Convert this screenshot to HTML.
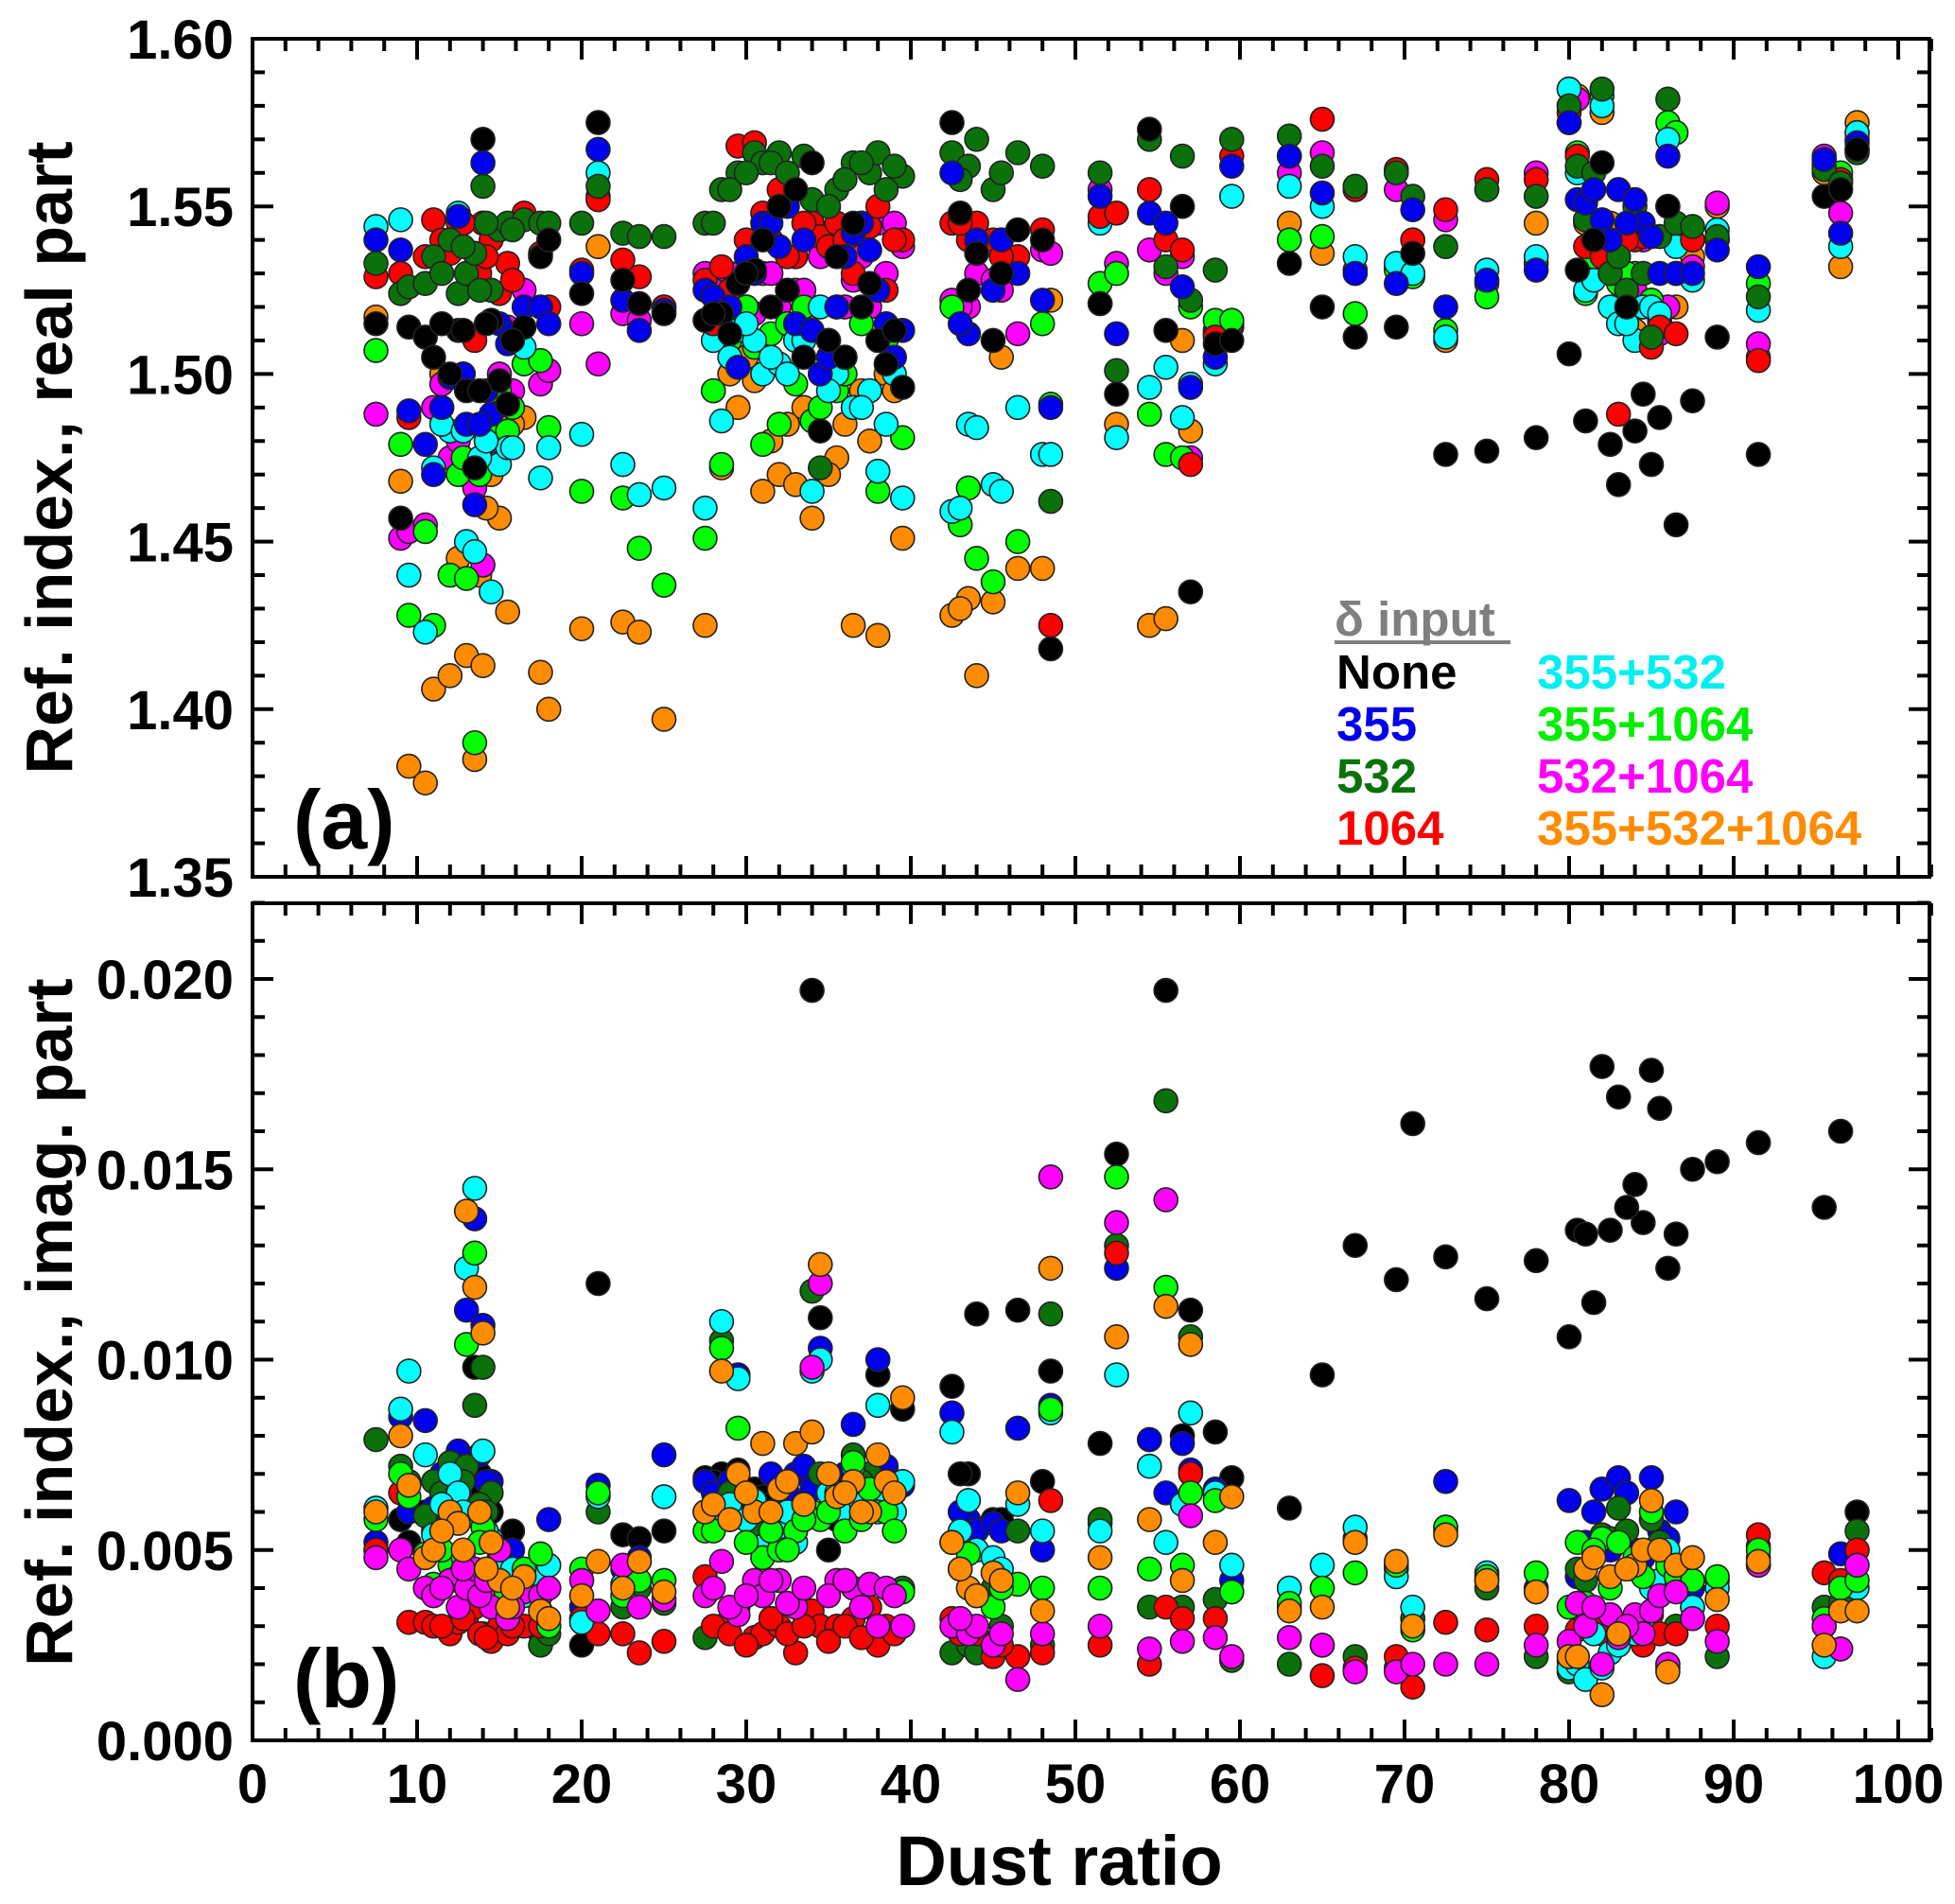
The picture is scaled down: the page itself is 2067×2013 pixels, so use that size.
<!DOCTYPE html>
<html><head><meta charset="utf-8"><style>
html,body{margin:0;padding:0;background:#fff;}
svg{display:block;font-family:"Liberation Sans",Arial,sans-serif;font-weight:bold;}
</style></head><body>
<svg id="chart" width="2067" height="2013" viewBox="0 0 2067 2013" xmlns="http://www.w3.org/2000/svg">
<g id="pa"></g>
<g id="pb"></g>
<text transform="translate(76,484) rotate(-90)" text-anchor="middle" font-size="70">Ref. index., real part</text>
<text transform="translate(76,1398) rotate(-90)" text-anchor="middle" font-size="70">Ref. index., imag. part</text>
<text x="1120" y="1993" text-anchor="middle" font-size="74">Dust ratio</text>
<text x="310" y="897" font-size="88">(a)</text>
<text x="310" y="1805" font-size="88">(b)</text>
<g font-size="51">
<text x="1411" y="672" fill="#7f7f7f">δ input</text>
<rect x="1411" y="677" width="186" height="4" fill="#7f7f7f"/>
<text x="1413" y="728" fill="#000">None</text>
<text x="1413" y="783" fill="#0000ee">355</text>
<text x="1413" y="838" fill="#0b720b">532</text>
<text x="1413" y="893" fill="#ff0000">1064</text>
<text x="1625" y="728" fill="#00f0f0">355+532</text>
<text x="1625" y="783" fill="#00ee00">355+1064</text>
<text x="1625" y="838" fill="#ff00ff">532+1064</text>
<text x="1625" y="893" fill="#ff8c00">355+532+1064</text>
</g>
</svg>
<script>
const dustRatio=[7.5,9,9.5,10.5,11,12,12.5,13,13.5,14,14.5,15,15.5,16.5,17.5,18,20,21,22.5,23.5,25,27.5,28.5,29.5,30.5,31,32,33,34,34.5,35.5,36.5,37.5,38,39.5,42.5,43.5,44,45,46.5,48,48.5,51.5,52.5,54.5,55.5,56.5,57,58.5,59.5,63,65,67,69.5,70.5,72.5,75,78,80,80.5,81,82,82.5,83,84,84.5,85,85.5,86,86.5,87.5,89,91.5,95.5,96.5,97.5,11.5,12.8,13.8,14.2,15.8,28,29,30,31.5,32.5,33.5,35,36,37,38.5,39,43,45.5,83.5,81.5];
const realNone=[1.515,1.457,1.514,1.511,1.505,1.500,1.513,1.495,1.472,1.570,1.516,1.498,1.491,1.514,1.535,1.540,1.524,1.575,1.528,1.521,1.518,1.516,1.518,1.527,1.531,1.540,1.550,1.555,1.563,1.483,1.535,1.545,1.527,1.510,1.496,1.575,1.525,1.536,1.510,1.543,1.540,1.418,1.521,1.494,1.573,1.513,1.550,1.435,1.509,1.510,1.533,1.520,1.511,1.514,1.536,1.476,1.477,1.481,1.506,1.531,1.486,1.563,1.479,1.467,1.483,1.494,1.473,1.487,1.550,1.455,1.492,1.511,1.476,1.553,1.555,1.567,1.515,1.513,1.495,1.515,1.510,1.518,1.512,1.530,1.520,1.525,1.505,1.510,1.505,1.520,1.503,1.513,1.548,1.530,1.520,1.540];
const real355=[1.540,1.537,1.489,1.479,1.470,1.499,1.547,1.485,1.461,1.563,1.488,1.515,1.509,1.520,1.520,1.515,1.530,1.567,1.522,1.513,1.519,1.525,1.520,1.502,1.530,1.545,1.538,1.515,1.513,1.500,1.520,1.542,1.537,1.525,1.513,1.560,1.512,1.540,1.525,1.530,1.522,1.490,1.553,1.512,1.548,1.545,1.526,1.496,1.505,1.562,1.565,1.554,1.530,1.527,1.549,1.520,1.528,1.531,1.575,1.552,1.551,1.546,1.540,1.555,1.552,1.545,1.541,1.530,1.565,1.530,1.530,1.537,1.532,1.564,1.542,1.569,1.490,1.500,1.485,1.495,1.512,1.523,1.520,1.535,1.545,1.550,1.540,1.505,1.535,1.545,1.515,1.505,1.515,1.540,1.545,1.555];
const real532=[1.533,1.524,1.526,1.527,1.535,1.540,1.524,1.530,1.536,1.556,1.525,1.543,1.545,1.546,1.545,1.545,1.545,1.556,1.542,1.541,1.541,1.545,1.555,1.560,1.566,1.563,1.566,1.555,1.552,1.472,1.555,1.563,1.560,1.566,1.559,1.566,1.562,1.570,1.555,1.566,1.562,1.462,1.560,1.501,1.570,1.532,1.565,1.522,1.531,1.570,1.571,1.562,1.556,1.560,1.553,1.538,1.555,1.553,1.580,1.562,1.546,1.585,1.530,1.535,1.550,1.530,1.511,1.541,1.582,1.545,1.544,1.541,1.523,1.561,1.557,1.566,1.530,1.538,1.525,1.545,1.543,1.545,1.555,1.560,1.563,1.560,1.565,1.550,1.558,1.563,1.555,1.562,1.558,1.560,1.525,1.560];
const real1064=[1.529,1.530,1.487,1.535,1.546,1.536,1.545,1.530,1.510,1.545,1.540,1.524,1.533,1.548,1.536,1.520,1.531,1.552,1.534,1.529,1.520,1.528,1.532,1.568,1.569,1.548,1.555,1.535,1.545,1.541,1.545,1.530,1.544,1.550,1.540,1.545,1.540,1.545,1.540,1.535,1.543,1.425,1.547,1.548,1.555,1.540,1.537,1.473,1.511,1.565,1.565,1.576,1.555,1.561,1.540,1.549,1.558,1.558,1.578,1.565,1.538,1.535,1.530,1.488,1.540,1.541,1.508,1.514,1.550,1.512,1.540,1.540,1.504,1.562,1.558,1.567,1.540,1.545,1.530,1.535,1.528,1.515,1.525,1.540,1.540,1.535,1.545,1.538,1.540,1.545,1.525,1.540,1.545,1.535,1.540,1.545];
const real355_532=[1.544,1.546,1.440,1.423,1.472,1.483,1.548,1.450,1.447,1.545,1.435,1.473,1.478,1.508,1.469,1.478,1.482,1.560,1.473,1.464,1.466,1.460,1.486,1.513,1.510,1.500,1.503,1.510,1.465,1.520,1.500,1.490,1.495,1.471,1.463,1.459,1.485,1.484,1.467,1.490,1.476,1.476,1.545,1.481,1.496,1.502,1.487,1.497,1.503,1.553,1.556,1.550,1.535,1.533,1.530,1.511,1.531,1.535,1.585,1.560,1.525,1.580,1.520,1.515,1.510,1.520,1.520,1.518,1.570,1.538,1.528,1.543,1.519,1.564,1.538,1.572,1.485,1.483,1.475,1.480,1.478,1.510,1.505,1.515,1.505,1.500,1.510,1.495,1.505,1.490,1.485,1.500,1.460,1.465,1.515,1.528];
const real355_1064=[1.507,1.479,1.428,1.453,1.425,1.440,1.470,1.439,1.390,1.474,1.484,1.495,1.483,1.503,1.504,1.484,1.465,1.553,1.463,1.448,1.437,1.451,1.473,1.519,1.508,1.479,1.485,1.497,1.486,1.490,1.495,1.490,1.495,1.465,1.481,1.520,1.466,1.445,1.438,1.450,1.515,1.491,1.527,1.530,1.488,1.476,1.475,1.520,1.516,1.516,1.540,1.541,1.518,1.531,1.529,1.513,1.523,1.533,1.575,1.566,1.524,1.583,1.535,1.527,1.530,1.520,1.522,1.515,1.575,1.572,1.540,1.540,1.527,1.563,1.560,1.570,1.490,1.475,1.470,1.480,1.490,1.495,1.510,1.520,1.512,1.515,1.520,1.510,1.500,1.515,1.510,1.505,1.455,1.540,1.530,1.535];
const real532_1064=[1.488,1.451,1.453,1.455,1.490,1.475,1.480,1.474,1.466,1.443,1.480,1.500,1.514,1.525,1.497,1.501,1.515,1.503,1.518,1.516,1.520,1.530,1.520,1.515,1.518,1.530,1.520,1.525,1.520,1.535,1.520,1.528,1.520,1.545,1.538,1.522,1.520,1.530,1.528,1.512,1.537,1.536,1.555,1.533,1.537,1.530,1.535,1.475,1.512,1.515,1.560,1.566,1.555,1.555,1.540,1.546,1.555,1.560,1.585,1.582,1.546,1.580,1.535,1.535,1.525,1.540,1.522,1.512,1.520,1.530,1.532,1.551,1.509,1.565,1.548,1.572,1.497,1.500,1.470,1.485,1.495,1.525,1.530,1.520,1.530,1.535,1.525,1.540,1.520,1.535,1.530,1.545,1.520,1.525,1.530,1.540];
const realAll=[1.517,1.468,1.383,1.378,1.406,1.410,1.445,1.416,1.385,1.413,1.470,1.457,1.429,1.487,1.411,1.400,1.424,1.538,1.426,1.423,1.397,1.425,1.472,1.490,1.498,1.465,1.470,1.467,1.457,1.500,1.475,1.425,1.480,1.422,1.451,1.428,1.433,1.410,1.432,1.442,1.442,1.522,1.521,1.485,1.425,1.427,1.510,1.483,1.513,1.514,1.545,1.536,1.531,1.532,1.530,1.510,1.527,1.545,1.580,1.583,1.545,1.578,1.545,1.530,1.513,1.520,1.520,1.516,1.520,1.520,1.535,1.550,1.505,1.560,1.532,1.575,1.500,1.470,1.440,1.460,1.485,1.495,1.500,1.505,1.480,1.485,1.490,1.470,1.485,1.495,1.500,1.495,1.430,1.505,1.530,1.540];
const imagNone=[0.0050,0.0058,0.0052,0.0060,0.0055,0.0058,0.0060,0.0065,0.0098,0.0065,0.0060,0.0050,0.0040,0.0045,0.0028,0.0040,0.0025,0.0120,0.0054,0.0053,0.0055,0.0069,0.0070,0.0071,0.0066,0.0064,0.0064,0.0060,0.0197,0.0111,0.0058,0.0062,0.0066,0.0096,0.0087,0.0093,0.0070,0.0112,0.0058,0.0113,0.0068,0.0097,0.0078,0.0154,0.0079,0.0197,0.0080,0.0113,0.0081,0.0069,0.0061,0.0096,0.0130,0.0121,0.0162,0.0127,0.0116,0.0126,0.0106,0.0134,0.0133,0.0177,0.0134,0.0169,0.0146,0.0136,0.0176,0.0166,0.0124,0.0133,0.0150,0.0152,0.0157,0.0140,0.0160,0.0060,0.0060,0.0062,0.0070,0.0060,0.0055,0.0068,0.0060,0.0065,0.0062,0.0060,0.0058,0.0050,0.0062,0.0065,0.0070,0.0060,0.0070,0.0058,0.0140,0.0115];
const imag355=[0.0052,0.0085,0.0060,0.0084,0.0061,0.0072,0.0076,0.0113,0.0137,0.0109,0.0068,0.0048,0.0045,0.0044,0.0040,0.0058,0.0035,0.0067,0.0045,0.0048,0.0075,0.0068,0.0065,0.0096,0.0059,0.0060,0.0068,0.0070,0.0066,0.0103,0.0068,0.0083,0.0063,0.0100,0.0067,0.0086,0.0058,0.0055,0.0057,0.0082,0.0050,0.0088,0.0057,0.0124,0.0079,0.0065,0.0078,0.0071,0.0066,0.0042,0.0040,0.0040,0.0053,0.0045,0.0032,0.0068,0.0042,0.0040,0.0063,0.0043,0.0052,0.0066,0.0050,0.0069,0.0050,0.0048,0.0069,0.0055,0.0053,0.0060,0.0040,0.0042,0.0051,0.0030,0.0049,0.0050,0.0070,0.0072,0.0075,0.0068,0.0050,0.0065,0.0068,0.0062,0.0070,0.0065,0.0072,0.0068,0.0070,0.0066,0.0072,0.0068,0.0060,0.0055,0.0065,0.0060];
const imag532=[0.0079,0.0072,0.0068,0.0059,0.0068,0.0073,0.0070,0.0072,0.0088,0.0098,0.0065,0.0048,0.0040,0.0042,0.0025,0.0028,0.0032,0.0060,0.0035,0.0040,0.0036,0.0027,0.0105,0.0070,0.0060,0.0055,0.0060,0.0055,0.0118,0.0070,0.0062,0.0075,0.0070,0.0063,0.0040,0.0023,0.0025,0.0023,0.0040,0.0055,0.0025,0.0112,0.0058,0.0130,0.0035,0.0168,0.0035,0.0106,0.0037,0.0021,0.0020,0.0025,0.0022,0.0019,0.0032,0.0056,0.0040,0.0022,0.0018,0.0045,0.0042,0.0054,0.0053,0.0061,0.0045,0.0030,0.0058,0.0052,0.0019,0.0030,0.0035,0.0022,0.0048,0.0035,0.0036,0.0055,0.0065,0.0068,0.0062,0.0060,0.0045,0.0062,0.0065,0.0058,0.0060,0.0058,0.0062,0.0065,0.0060,0.0068,0.0062,0.0065,0.0030,0.0030,0.0055,0.0050];
const imag1064=[0.0050,0.0065,0.0031,0.0031,0.0030,0.0028,0.0031,0.0032,0.0035,0.0028,0.0026,0.0030,0.0028,0.0030,0.0030,0.0030,0.0032,0.0028,0.0028,0.0023,0.0026,0.0043,0.0030,0.0035,0.0027,0.0028,0.0030,0.0023,0.0034,0.0030,0.0030,0.0032,0.0035,0.0025,0.0030,0.0032,0.0030,0.0028,0.0022,0.0022,0.0023,0.0063,0.0025,0.0128,0.0020,0.0035,0.0032,0.0070,0.0032,0.0039,0.0035,0.0017,0.0019,0.0022,0.0014,0.0031,0.0029,0.0030,0.0021,0.0029,0.0033,0.0028,0.0033,0.0030,0.0028,0.0025,0.0033,0.0028,0.0020,0.0028,0.0032,0.0030,0.0054,0.0044,0.0042,0.0050,0.0030,0.0032,0.0028,0.0027,0.0030,0.0030,0.0028,0.0025,0.0032,0.0028,0.0030,0.0026,0.0030,0.0027,0.0030,0.0028,0.0028,0.0025,0.0030,0.0032];
const imag355_532=[0.0061,0.0087,0.0097,0.0075,0.0054,0.0070,0.0065,0.0124,0.0145,0.0076,0.0053,0.0047,0.0040,0.0038,0.0043,0.0046,0.0031,0.0064,0.0041,0.0047,0.0064,0.0060,0.0110,0.0095,0.0063,0.0051,0.0056,0.0052,0.0097,0.0100,0.0061,0.0072,0.0065,0.0088,0.0068,0.0081,0.0063,0.0050,0.0048,0.0062,0.0055,0.0086,0.0055,0.0096,0.0072,0.0052,0.0062,0.0086,0.0065,0.0046,0.0040,0.0046,0.0056,0.0043,0.0035,0.0055,0.0044,0.0039,0.0019,0.0020,0.0016,0.0019,0.0023,0.0025,0.0028,0.0032,0.0040,0.0042,0.0050,0.0040,0.0035,0.0040,0.0046,0.0022,0.0024,0.0040,0.0062,0.0060,0.0058,0.0055,0.0045,0.0060,0.0062,0.0058,0.0055,0.0060,0.0062,0.0065,0.0060,0.0062,0.0065,0.0060,0.0055,0.0045,0.0030,0.0028];
const imag355_1064=[0.0058,0.0070,0.0064,0.0049,0.0041,0.0046,0.0043,0.0104,0.0128,0.0056,0.0042,0.0040,0.0034,0.0045,0.0049,0.0030,0.0045,0.0065,0.0038,0.0042,0.0042,0.0055,0.0103,0.0082,0.0060,0.0048,0.0050,0.0055,0.0060,0.0058,0.0065,0.0073,0.0066,0.0060,0.0039,0.0052,0.0049,0.0038,0.0035,0.0041,0.0040,0.0087,0.0040,0.0148,0.0045,0.0119,0.0046,0.0065,0.0063,0.0039,0.0036,0.0040,0.0044,0.0046,0.0029,0.0056,0.0043,0.0044,0.0035,0.0052,0.0036,0.0053,0.0040,0.0052,0.0048,0.0043,0.0060,0.0050,0.0046,0.0043,0.0042,0.0043,0.0050,0.0032,0.0040,0.0042,0.0050,0.0048,0.0052,0.0045,0.0040,0.0055,0.0058,0.0052,0.0055,0.0050,0.0058,0.0060,0.0055,0.0058,0.0060,0.0055,0.0045,0.0040,0.0045,0.0050];
const imag532_1064=[0.0048,0.0050,0.0045,0.0040,0.0038,0.0042,0.0035,0.0040,0.0045,0.0038,0.0035,0.0050,0.0032,0.0039,0.0038,0.0040,0.0042,0.0034,0.0046,0.0035,0.0037,0.0038,0.0047,0.0033,0.0042,0.0038,0.0042,0.0035,0.0098,0.0120,0.0042,0.0040,0.0041,0.0030,0.0030,0.0030,0.0028,0.0030,0.0025,0.0016,0.0028,0.0148,0.0030,0.0136,0.0024,0.0142,0.0026,0.0059,0.0027,0.0022,0.0027,0.0025,0.0018,0.0018,0.0020,0.0020,0.0020,0.0025,0.0026,0.0036,0.0030,0.0020,0.0033,0.0027,0.0033,0.0028,0.0034,0.0038,0.0020,0.0039,0.0032,0.0026,0.0046,0.0030,0.0024,0.0046,0.0040,0.0045,0.0038,0.0042,0.0035,0.0040,0.0035,0.0038,0.0042,0.0036,0.0040,0.0038,0.0042,0.0035,0.0040,0.0038,0.0032,0.0028,0.0030,0.0035];
const imagAll=[0.0060,0.0080,0.0067,0.0048,0.0050,0.0060,0.0057,0.0139,0.0119,0.0107,0.0052,0.0042,0.0035,0.0043,0.0034,0.0032,0.0038,0.0047,0.0040,0.0047,0.0039,0.0060,0.0097,0.0070,0.0060,0.0078,0.0066,0.0078,0.0081,0.0125,0.0064,0.0068,0.0060,0.0075,0.0090,0.0052,0.0040,0.0038,0.0044,0.0065,0.0034,0.0124,0.0048,0.0106,0.0058,0.0114,0.0042,0.0104,0.0052,0.0064,0.0034,0.0035,0.0052,0.0047,0.0030,0.0054,0.0042,0.0039,0.0022,0.0022,0.0045,0.0012,0.0043,0.0028,0.0046,0.0050,0.0063,0.0050,0.0018,0.0046,0.0048,0.0037,0.0047,0.0025,0.0034,0.0034,0.0055,0.0050,0.0060,0.0045,0.0040,0.0062,0.0058,0.0065,0.0060,0.0068,0.0062,0.0070,0.0065,0.0060,0.0068,0.0065,0.0045,0.0042,0.0045,0.0048];
const xTickLabels=["0","10","20","30","40","50","60","70","80","90","100"];
const realTickLabels=["1.35","1.40","1.45","1.50","1.55","1.60"];
const imagTickLabels=["0.000","0.005","0.010","0.015","0.020"];

const NS="http://www.w3.org/2000/svg";
const L=267,R=2040;
function xs(v){return L+(v-0)*17.4;}
const A={top:41,bot:927,min:1.35,max:1.60};
const B={top:955,bot:1840,min:0,max:0.022};
function ya(v){return A.bot-(v-A.min)/(A.max-A.min)*(A.bot-A.top);}
function yb(v){return B.bot-(v-B.min)*40250;}
function mk(tag,attrs,parent){const e=document.createElementNS(NS,tag);for(const k in attrs)e.setAttribute(k,attrs[k]);parent.appendChild(e);return e;}

function drawPanel(g,P,yf,minorStep,majorStep,labels,isBottom){
  const frame=mk('rect',{x:L,y:P.top,width:R-L,height:P.bot-P.top,fill:'none',stroke:'#000','stroke-width':4},g);
  
  
  for(let v=0;v<=102;v+=2){
    const x=xs(v);const major=(v%10===0);const len=major?22:13;
    const t1=mk('line',{x1:x,x2:x,y1:P.bot,y2:P.bot-len,stroke:'#000','stroke-width':4},g);
    
    
    const t2=mk('line',{x1:x,x2:x,y1:P.top,y2:P.top+len,stroke:'#000','stroke-width':4},g);
    
    
  }
  const n=Math.round((P.max-P.min)/minorStep);
  for(let i=0;i<=n;i++){
    const v=P.min+i*minorStep;const y=yf(v);
    const major=(i%Math.round(majorStep/minorStep)===0);const len=major?22:13;
    const t=mk('line',{x1:L,x2:L+len,y1:y,y2:y,stroke:'#000','stroke-width':4},g);
    
    
    const t2=mk('line',{x1:R,x2:R-len,y1:y,y2:y,stroke:'#000','stroke-width':4},g);
    
    
  }
  labels.forEach((s,i)=>{
    const v=P.min+i*majorStep;
    const t=mk('text',{x:L-20,y:yf(v)+21,'text-anchor':'end','font-size':58},g);
    t.textContent=s;
    
    
  });
  if(isBottom){
    xTickLabels.forEach((s,i)=>{
      const t=mk('text',{x:xs(i*10),y:P.bot+66,'text-anchor':'middle','font-size':58},g);
      t.textContent=s;
      
      
    });
  }
}
const colors={none:'#000000',s355:'#0000ee',s532:'#0b720b',s1064:'#ff0000',s355_532:'#00ffff',s355_1064:'#00ff00',s532_1064:'#ff00ff',all:'#ff8c00'};
function drawSeries(g,ys,yf,color,name){
  const sg=mk('g',{},g);
  
  
  ys.forEach((v,i)=>{
    if(v===undefined||dustRatio[i]===undefined)return;
    const c=mk('circle',{cx:xs(dustRatio[i]),cy:yf(v),r:12.5,fill:color,stroke:'#222','stroke-width':1.6},sg);
    
    
  });
}
const ga=document.getElementById('pa'),gb=document.getElementById('pb');
drawPanel(ga,A,ya,0.01,0.05,realTickLabels,false);
drawPanel(gb,B,yb,0.001,0.005,imagTickLabels,true);
[[realAll,'all'],[real532_1064,'s532_1064'],[real355_1064,'s355_1064'],[real355_532,'s355_532'],[real1064,'s1064'],[real532,'s532'],[real355,'s355'],[realNone,'none']].forEach(([d,k])=>drawSeries(ga,d,ya,colors[k],k));
[[imagNone,'none'],[imag355,'s355'],[imag532,'s532'],[imag1064,'s1064'],[imag355_532,'s355_532'],[imag355_1064,'s355_1064'],[imag532_1064,'s532_1064'],[imagAll,'all']].forEach(([d,k])=>drawSeries(gb,d,yb,colors[k],k));
</script>
</body></html>
